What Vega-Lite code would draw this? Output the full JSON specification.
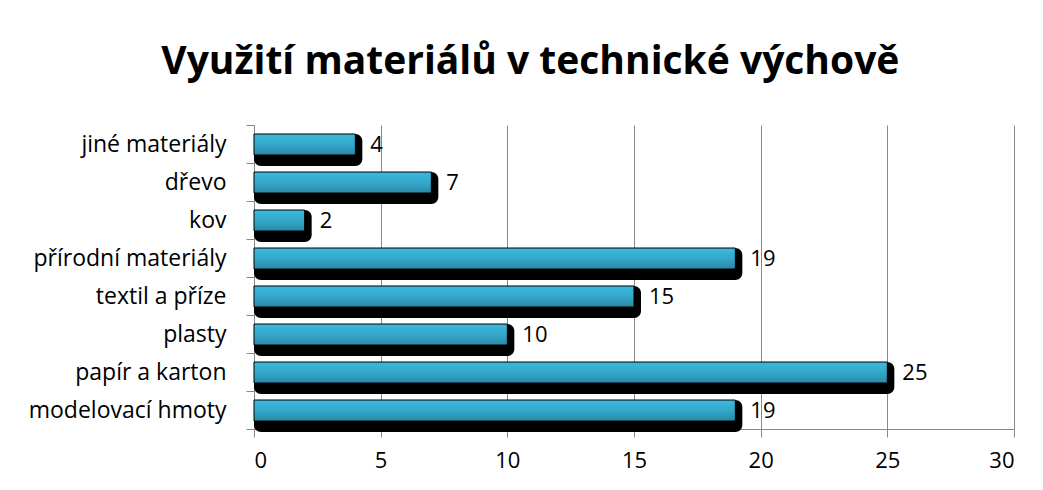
{
  "$schema": "https://vega.github.io/schema/vega-lite/v6.json",
  "width": 760,
  "height": 304,
  "autosize": "none",
  "padding": {"left": 254, "top": 125, "right": 29, "bottom": 61},
  "background": "white",
  "config": {"view": {"stroke": null}, "font": "Open Sans"},
  "title": {
    "text": "Využití materiálů v technické výchově",
    "font": "Open Sans",
    "fontSize": 39,
    "fontWeight": "bold",
    "color": "black",
    "anchor": "middle",
    "frame": "bounds",
    "baseline": "alphabetic",
    "offset": 1,
    "dx": 9
  },
  "data": {
    "values": [
      {"material": "jiné materiály", "count": 4},
      {"material": "dřevo", "count": 7},
      {"material": "kov", "count": 2},
      {"material": "přírodní materiály", "count": 19},
      {"material": "textil a příze", "count": 15},
      {"material": "plasty", "count": 10},
      {"material": "papír a karton", "count": 25},
      {"material": "modelovací hmoty", "count": 19}
    ]
  },
  "encoding": {
    "y": {
      "field": "material",
      "type": "nominal",
      "sort": null,
      "scale": {"paddingInner": 0, "paddingOuter": 0},
      "axis": {
        "title": null,
        "labelFontSize": 23,
        "labelColor": "black",
        "labelPadding": 20,
        "labelLimit": 300,
        "tickBand": "extent",
        "tickSize": 8,
        "tickColor": "#888888",
        "domainColor": "#888888",
        "labelFont": "Open Sans"
      }
    },
    "x": {
      "field": "count",
      "type": "quantitative",
      "stack": null,
      "scale": {"domain": [0, 30], "nice": false},
      "axis": {
        "title": null,
        "values": [0, 5, 10, 15, 20, 25, 30],
        "grid": true,
        "gridColor": "#888888",
        "gridWidth": 1,
        "tickSize": 8,
        "tickColor": "#888888",
        "domainColor": "#888888",
        "labelFontSize": 22,
        "labelColor": "black",
        "labelPadding": 13,
        "labelFont": "Open Sans"
      }
    }
  },
  "layer": [
    {
      "mark": {"type": "bar", "color": "black", "height": 32, "yOffset": 6, "xOffset": 7, "x2Offset": 0, "cornerRadius": 7},
      "encoding": {"x2": {"datum": 0}}
    },
    {
      "mark": {
        "type": "bar",
        "height": 21,
        "yOffset": 0.5,
        "stroke": "black",
        "strokeWidth": 1,
        "color": {
          "gradient": "linear",
          "x1": 0, "y1": 0, "x2": 0, "y2": 1,
          "stops": [
            {"offset": 0, "color": "#3bb8dc"},
            {"offset": 0.5, "color": "#34a8cb"},
            {"offset": 1, "color": "#2a88a6"}
          ]
        }
      }
    },
    {
      "mark": {"type": "text", "align": "left", "baseline": "middle", "dx": 15, "dy": 1, "fontSize": 22, "font": "Open Sans", "color": "black"},
      "encoding": {"text": {"field": "count", "type": "quantitative"}}
    }
  ]
}
